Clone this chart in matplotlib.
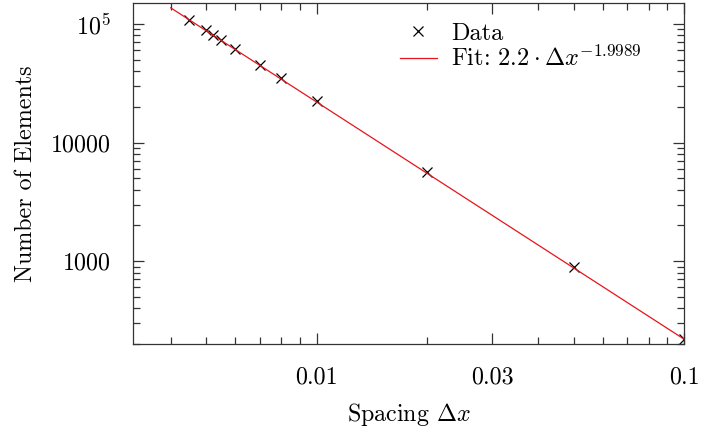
import numpy as np
import matplotlib
matplotlib.use("Agg")
import matplotlib.pyplot as plt
from matplotlib.ticker import FixedLocator, FixedFormatter, LogLocator, NullFormatter

# mesh spacing vs. element count
spacing = [0.0045, 0.005, 0.0052, 0.0055, 0.006, 0.007, 0.008, 0.01, 0.02, 0.05, 0.1]
elements = [108000, 88500, 81000, 73000, 61500, 45000, 34800, 22300, 5600, 900, 222]

# power-law fit parameters
fit_coef = 2.2
fit_exp = -1.9989

xticks = [0.01, 0.03, 0.1]
xtick_labels = ["0.01", "0.03", "0.1"]
yticks = [1000, 10000, 100000]
ytick_labels = ["1000", "10000", "$10^5$"]

plt.rcParams["font.family"] = "serif"
plt.rcParams["font.serif"] = ["cmr10", "DejaVu Serif"]
plt.rcParams["mathtext.fontset"] = "cm"
plt.rcParams["axes.unicode_minus"] = False

FS = 17.3


def main():
    fig = plt.figure(figsize=(7.01, 4.33), dpi=100)
    ax = fig.add_axes([0.190, 0.2055, 0.786, 0.7875])

    ax.plot(spacing, elements, linestyle="none", marker="x", color="black",
            markersize=7.5, markeredgewidth=0.9, label="Data")
    xs = np.geomspace(0.004, 0.1, 100)
    ax.plot(xs, fit_coef * xs ** fit_exp, color="#e8141c", linewidth=0.9,
            label=r"Fit: $2.2\cdot\Delta x^{-1.9989}$")

    ax.set_xscale("log")
    ax.set_yscale("log")
    ax.set_xlim(10 ** -2.5, 0.1)
    ax.set_ylim(200, 150000)

    ax.xaxis.set_major_locator(FixedLocator(xticks))
    ax.xaxis.set_major_formatter(FixedFormatter(xtick_labels))
    ax.xaxis.set_minor_locator(LogLocator(base=10, subs=np.arange(2, 10)))
    ax.xaxis.set_minor_formatter(NullFormatter())
    ax.yaxis.set_major_locator(FixedLocator(yticks))
    ax.yaxis.set_major_formatter(FixedFormatter(ytick_labels))
    ax.yaxis.set_minor_locator(LogLocator(base=10, subs=np.arange(2, 10)))
    ax.yaxis.set_minor_formatter(NullFormatter())

    ax.tick_params(which="both", direction="in", top=True, right=True,
                   color="#333333", width=0.9, labelsize=FS)
    ax.tick_params(which="major", length=8)
    ax.tick_params(which="minor", length=5)
    ax.tick_params(axis="x", which="major", pad=16)
    ax.tick_params(axis="y", which="major", pad=16)
    for s in ax.spines.values():
        s.set_linewidth(0.9)
        s.set_color("#333333")

    ax.set_xlabel(r"Spacing $\Delta x$", fontsize=FS, labelpad=9)
    ax.set_ylabel("Number of Elements", fontsize=FS, labelpad=10)

    ax.legend(loc="upper left", bbox_to_anchor=(0.4846, 0.943), frameon=False,
              fontsize=17.5, handlelength=1.5, handletextpad=0.58,
              labelspacing=0.05, borderpad=0, borderaxespad=0)

    fig.savefig("out.png", dpi=100)


if __name__ == "__main__":
    main()
